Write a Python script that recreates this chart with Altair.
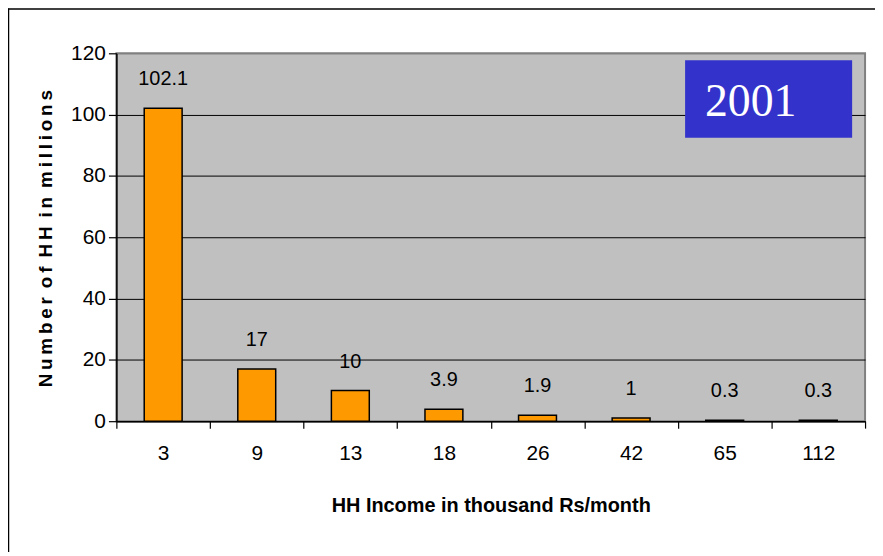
import altair as alt
import pandas as pd

income = ["3", "9", "13", "18", "26", "42", "65", "112"]
households = [102.1, 17, 10, 3.9, 1.9, 1, 0.3, 0.3]
labels = ["102.1", "17", "10", "3.9", "1.9", "1", "0.3", "0.3"]
y_ticks = [0, 20, 40, 60, 80, 100, 120]

df = pd.DataFrame({"income": income, "hh": households, "label": labels})

NARROW = "Liberation Sans Narrow, Arial Narrow, Liberation Sans, Arial"

x_enc = alt.X(
    "income:N", sort=income,
    scale=alt.Scale(paddingInner=0, paddingOuter=0),
    axis=alt.Axis(
        title="HH Income in thousand Rs/month", labelAngle=0, tickBand="extent",
        domainColor="black", domainWidth=1.5, tickColor="black", tickWidth=1.2,
        tickSize=7, labelPadding=15, labelFont=NARROW, labelFontSize=21,
        labelColor="black", titleFont=NARROW, titleFontSize=20, titleFontWeight="bold",
        titleColor="black", titleX=376.5, titleY=85, titleBaseline="middle",
        titleAlign="center", grid=False,
    ),
)
y_enc = alt.Y(
    "hh:Q", scale=alt.Scale(domain=[0, 120], nice=False),
    axis=alt.Axis(
        title="N\u2009u\u2009m\u2009b\u2009e\u2009r\u2009 o\u2009f\u2009 H\u2009H\u2009 i\u2009n\u2009 m\u2009i\u2009l\u2009l\u2009i\u2009o\u2009n\u2009s",
        values=y_ticks, grid=True,
        gridColor=alt.condition("datum.value === 120", alt.value("#808080"), alt.value("black")),
        gridWidth=1, domainColor="black", domainWidth=1.5, tickColor="black",
        tickWidth=1.2, tickSize=8, labelPadding=3, labelFont=NARROW, labelFontSize=21,
        labelColor="black", titleFont="Liberation Sans", titleFontSize=19,
        titleFontWeight="bold", titleColor="black", titleX=-71, titleY=186,
        titleAngle=-90, titleBaseline="middle", titleAlign="center",
    ),
)

bars = alt.Chart(df).mark_bar(
    width=alt.RelativeBandSize(0.405), color="#FF9900", stroke="black", strokeWidth=1.5
).encode(x=x_enc, y=y_enc)

texts = alt.Chart(df).mark_text(
    dy=-23, baseline="alphabetic", font=NARROW, fontSize=20, color="black"
).encode(x=x_enc, y=y_enc, text="label:N")

one = pd.DataFrame({"a": [0]})
box = alt.Chart(one).mark_rect(color="#3333CC").encode(
    x=alt.value(572), x2=alt.value(740), y=alt.value(7), y2=alt.value(85)
)
year = alt.Chart(one).mark_text(
    text="2001", font="Liberation Serif, Times New Roman, serif", fontSize=46,
    color="white", align="left", baseline="alphabetic"
).encode(x=alt.value(592), y=alt.value(63))

frame_h = alt.Chart(one).mark_rule(color="black", strokeWidth=1.5).encode(
    x=alt.value(-109), x2=alt.value(770), y=alt.value(-44.5)
)
frame_v = alt.Chart(one).mark_rule(color="black", strokeWidth=1.5).encode(
    x=alt.value(-108.5), y=alt.value(-45), y2=alt.value(510)
)

chart = alt.layer(bars, texts, box, year, frame_h, frame_v).properties(
    width=753, height=370,
    autosize=alt.AutoSizeParams(type="none"),
    padding={"left": 109, "top": 44, "right": 10, "bottom": 130},
    background="white",
).configure_view(fill="#C0C0C0", stroke="#808080", strokeWidth=2)

chart.save("out.html", embed_options={"renderer": "svg", "actions": False})
